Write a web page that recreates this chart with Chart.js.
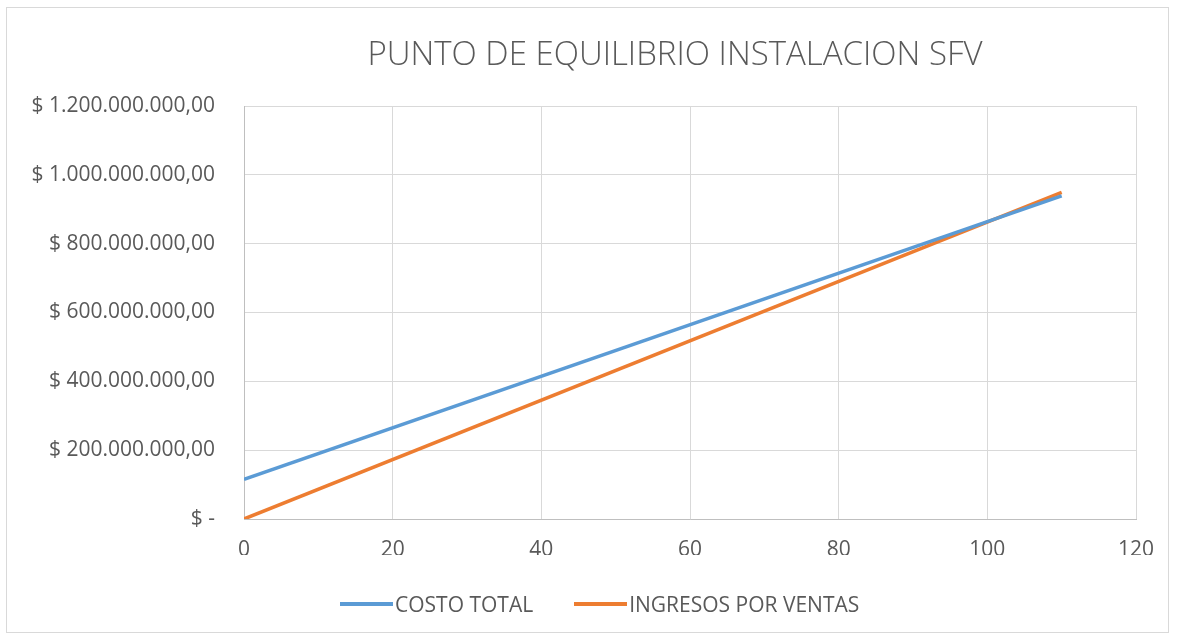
<!DOCTYPE html>
<html>
<head>
<meta charset="utf-8">
<script src="https://cdn.jsdelivr.net/npm/chart.js@4.4.1/dist/chart.umd.min.js"></script>
<style>
    html, body { margin: 0; padding: 0; background: #fff; }
    #wrap { position: relative; width: 1179px; height: 636px; }
    #frame { position: absolute; left: 6px; top: 7px; width: 1161px; height: 624px; border: 1px solid #d9d9d9; }
    #chart { position: absolute; left: 0; top: 0; }
    #legend { position: absolute; left: 340px; top: 590px; height: 28px; display: flex; align-items: center;
              font-family: 'Open Sans', sans-serif; font-size: 21px; color: #595959; white-space: nowrap; }
    .item { display: flex; align-items: center; margin-right: 41px; }
    .swatch { width: 53px; height: 3.5px; margin-right: 2px; }
</style>
</head>
<body>
<div id="wrap">
    <div id="frame"></div>
    <canvas id="chart" width="1179" height="636"></canvas>
    <div id="legend"></div>
</div>
<script>
// Punto de equilibrio
const unidades = [0, 110];
const costoTotal = [115000000, 939000000];
const ingresosVentas = [0, 949000000];
const xTicks = [0, 20, 40, 60, 80, 100, 120];
const yTicks = [0, 200000000, 400000000, 600000000, 800000000, 1000000000, 1200000000];
const titulo = 'PUNTO DE EQUILIBRIO INSTALACION SFV';

const textColor = '#595959';
const gridColor = '#d9d9d9';

function formatPesos(v) {
    if (v === 0) return '$ -';
    const s = Math.round(v).toString().replace(/\B(?=(\d{3})+(?!\d))/g, '.');
    return '$ ' + s + ',00';
}

// title drawn by hand so it sits where Excel put it (not centred on the canvas)
const titlePlugin = {
    id: 'tituloExcel',
    afterDraw(chart) {
        const c = chart.ctx;
        c.save();
        c.fillStyle = textColor;
        c.font = '300 33px "Open Sans"';
        c.textAlign = 'center';
        c.textBaseline = 'middle';
        c.fillText(titulo, 675, 56);
        c.restore();
    }
};

const ctx = document.getElementById('chart');
const chart = new Chart(ctx, {
    type: 'line',
    data: {
        datasets: [
            {
                label: 'COSTO TOTAL',
                data: unidades.map((u, i) => ({ x: u, y: costoTotal[i] })),
                borderColor: '#5b9bd5',
                backgroundColor: '#5b9bd5',
                borderWidth: 3.5,
                pointRadius: 0
            },
            {
                label: 'INGRESOS POR VENTAS',
                data: unidades.map((u, i) => ({ x: u, y: ingresosVentas[i] })),
                borderColor: '#ed7d31',
                backgroundColor: '#ed7d31',
                borderWidth: 3.5,
                pointRadius: 0
            }
        ]
    },
    plugins: [titlePlugin],
    options: {
        responsive: false,
        animation: false,
        layout: { padding: { left: 0, right: 43, top: 106, bottom: 81 } },
        plugins: {
            title: { display: false },
            legend: { display: false },
            tooltip: { enabled: false }
        },
        scales: {
            x: {
                type: 'linear',
                min: 0,
                max: 120,
                afterBuildTicks: s => { s.ticks = xTicks.map(v => ({ value: v })); },
                afterFit: s => { s.height = 36; },
                grid: { color: gridColor, drawTicks: false },
                border: { color: '#bfbfbf' },
                ticks: {
                    color: textColor,
                    font: { family: 'Open Sans', size: 21 },
                    padding: 18
                }
            },
            y: {
                min: 0,
                max: 1200000000,
                afterBuildTicks: s => { s.ticks = yTicks.map(v => ({ value: v })); },
                afterFit: s => { s.width = 244; },
                grid: { color: gridColor, drawTicks: false },
                border: { color: '#bfbfbf' },
                ticks: {
                    color: textColor,
                    font: { family: 'Open Sans', size: 21 },
                    padding: 29,
                    callback: v => formatPesos(v)
                }
            }
        }
    }
});

// legend in html, built from the datasets
const legendEl = document.getElementById('legend');
legendEl.innerHTML = chart.data.datasets.map(ds => `
    <div class="item">
        <span class="swatch" style="background:${ds.borderColor}"></span>
        <span>${ds.label}</span>
    </div>
`).join('');
</script>
</body>
</html>
